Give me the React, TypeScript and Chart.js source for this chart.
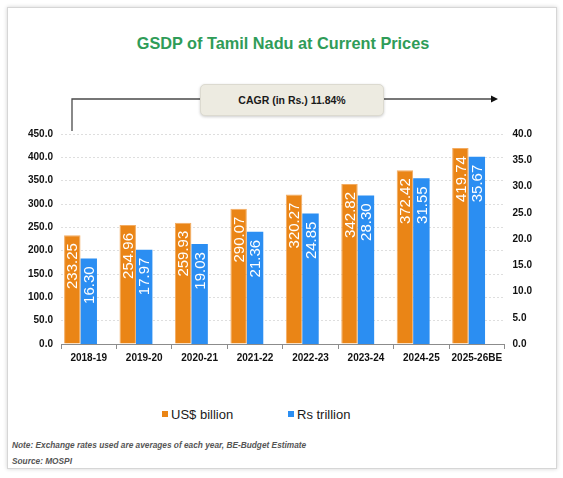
import { useEffect, useRef } from "react";
import { Chart, registerables, type ChartConfiguration, type Plugin } from "chart.js";

Chart.register(...registerables);

const FONT = "'Liberation Sans', Arial, sans-serif";

const YEARS = [
  "2018-19",
  "2019-20",
  "2020-21",
  "2021-22",
  "2022-23",
  "2023-24",
  "2024-25",
  "2025-26BE",
];
const USD_BILLION = [233.25, 254.96, 259.93, 290.07, 320.27, 342.82, 372.42, 419.74];
const RS_TRILLION = [16.3, 17.97, 19.03, 21.36, 24.85, 28.3, 31.55, 35.67];

const ORANGE = "#ea8516";
const BLUE = "#2b8ef2";

// white vertical value labels inside the top of each bar
const barLabels: Plugin<"bar"> = {
  id: "barLabels",
  afterDatasetsDraw(chart) {
    const ctx = chart.ctx;
    ctx.save();
    ctx.fillStyle = "#ffffff";
    ctx.font = `15px ${FONT}`;
    ctx.textAlign = "right";
    ctx.textBaseline = "middle";
    [0, 1].forEach((di) => {
      const meta = chart.getDatasetMeta(di);
      meta.data.forEach((bar, i) => {
        const v = chart.data.datasets[di].data[i] as number;
        ctx.save();
        ctx.translate(bar.x, bar.y + 8);
        ctx.rotate(-Math.PI / 2);
        ctx.fillText(v.toFixed(2), 0, 1);
        ctx.restore();
      });
    });
    ctx.restore();
  },
};

const tickFont = { family: FONT, size: 10, weight: "bold" as const };

function buildConfig(): ChartConfiguration<"bar"> {
  return {
    type: "bar",
    data: {
      labels: YEARS,
      datasets: [
        {
          label: "US$ billion",
          data: USD_BILLION,
          backgroundColor: ORANGE,
          borderColor: "#f3ac62",
          borderWidth: 1,
          borderSkipped: "bottom",
          yAxisID: "y",
        },
        {
          label: "Rs trillion",
          data: RS_TRILLION,
          backgroundColor: BLUE,
          borderWidth: 0,
          yAxisID: "y1",
        },
        {
          // empty slot so the pair sits left of the category centre
          label: "",
          data: YEARS.map(() => null),
          yAxisID: "y",
        },
      ],
    },
    options: {
      responsive: false,
      maintainAspectRatio: false,
      animation: false,
      layout: { padding: { left: 20, right: 23, top: 14, bottom: 3 } },
      datasets: {
        bar: { categoryPercentage: 0.89, barPercentage: 1 },
      },
      plugins: {
        legend: { display: false },
        tooltip: { enabled: false },
      },
      scales: {
        x: {
          offset: true,
          border: { display: true, color: "#8c8c8c", width: 1 },
          grid: {
            offset: true,
            drawOnChartArea: false,
            drawTicks: true,
            tickLength: 5,
            color: "#8c8c8c",
          },
          ticks: {
            color: "#111",
            padding: 3,
            font: tickFont,
            maxRotation: 0,
            autoSkip: false,
          },
        },
        y: {
          position: "left",
          min: 0,
          max: 450,
          border: { display: false, dash: [2, 2] },
          grid: {
            drawTicks: false,
            color: "#d6d6d6",
            lineWidth: 0.8,
          },
          ticks: {
            stepSize: 50,
            padding: 8,
            color: "#111",
            font: tickFont,
            callback: (v) => Number(v).toFixed(1),
          },
        },
        y1: {
          position: "right",
          min: 0,
          max: 40,
          border: { display: false },
          grid: { display: false, drawTicks: false },
          ticks: {
            stepSize: 5,
            padding: 8,
            color: "#111",
            font: tickFont,
            callback: (v) => Number(v).toFixed(1),
          },
        },
      },
    },
    plugins: [barLabels],
  };
}

function GsdpChart() {
  const canvasRef = useRef<HTMLCanvasElement>(null);
  useEffect(() => {
    const canvas = canvasRef.current;
    if (!canvas) return;
    const chart = new Chart(canvas, buildConfig());
    return () => chart.destroy();
  }, []);
  return (
    <canvas
      ref={canvasRef}
      width={563}
      height={250}
      style={{ position: "absolute", left: 0, top: 120, width: 563, height: 250 }}
    />
  );
}

export default function App() {
  const legendItem = (color: string, text: string, left: number) => (
    <div
      style={{
        position: "absolute",
        left,
        top: 405,
        height: 18,
        display: "flex",
        alignItems: "center",
        fontFamily: FONT,
        fontSize: 13,
        color: "#1a1a1a",
      }}
    >
      <span style={{ width: 6, height: 6, background: color, marginRight: 3 }} />
      {text}
    </div>
  );
  return (
    <div
      style={{
        position: "absolute",
        left: 0,
        top: 0,
        width: 563,
        height: 478,
        background: "#fff",
        fontFamily: FONT,
        overflow: "hidden",
      }}
    >
      <div
        style={{
          position: "absolute",
          left: 7,
          top: 7,
          width: 548,
          height: 460,
          border: "1px solid #d6d6d6",
          boxShadow: "0 0 4px rgba(0,0,0,0.18)",
          background: "#fff",
        }}
      />
      <div
        style={{
          position: "absolute",
          left: 0,
          width: 566,
          top: 34,
          textAlign: "center",
          fontWeight: "bold",
          fontSize: 16.3,
          color: "#2f9c58",
        }}
      >
        GSDP of Tamil Nadu at Current Prices
      </div>
      <svg
        width={563}
        height={140}
        style={{ position: "absolute", left: 0, top: 0 }}
      >
        <polyline
          points="72,131 72,99 200,99"
          fill="none"
          stroke="#4a4a4a"
          strokeWidth={1.3}
        />
        <line x1={384} y1={99} x2={491} y2={99} stroke="#4a4a4a" strokeWidth={1.3} />
        <polygon points="491,95.5 498,99 491,102.5" fill="#111" />
      </svg>
      <div
        style={{
          position: "absolute",
          left: 200,
          top: 84,
          width: 184,
          height: 32,
          boxSizing: "border-box",
          background: "#edebe1",
          border: "1px solid #dcdad0",
          borderRadius: 5,
          boxShadow: "0 1px 3px rgba(0,0,0,0.2)",
          display: "flex",
          alignItems: "center",
          justifyContent: "center",
          fontWeight: "bold",
          fontSize: 10.5,
          color: "#1a1a1a",
        }}
      >
        CAGR (in Rs.) 11.84%
      </div>
      <GsdpChart />
      {legendItem(ORANGE, "US$ billion", 162)}
      {legendItem(BLUE, "Rs trillion", 288)}
      <div
        style={{
          position: "absolute",
          left: 12,
          top: 437,
          fontSize: 8.3,
          fontWeight: "bold",
          fontStyle: "italic",
          color: "#555",
          lineHeight: "16px",
        }}
      >
        <div>Note: Exchange rates used are averages of each year, BE-Budget Estimate</div>
        <div>Source: MOSPI</div>
      </div>
    </div>
  );
}
